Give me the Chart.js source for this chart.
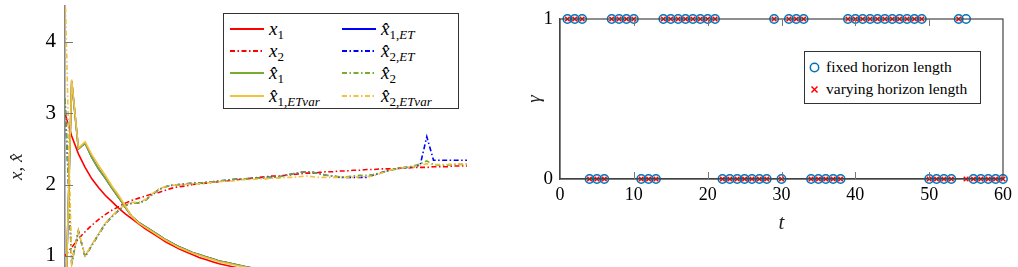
<!DOCTYPE html>
<html>
<head>
<meta charset="utf-8">
<script src="https://cdn.jsdelivr.net/npm/chart.js@4.4.1/dist/chart.umd.min.js"></script>
<style>
  body { margin: 0; width: 1018px; height: 267px; overflow: hidden; position: relative; background: #fff; }
  #leftWrap { position: absolute; left: 0; top: 0; width: 480px; height: 340px; }
  #rightWrap { position: absolute; left: 500px; top: 0; width: 518px; height: 267px; }
  .legend { position: absolute; background: #fff; border: 1px solid #333; box-sizing: border-box; }
  .item { position: absolute; height: 20px; display: flex; align-items: center; white-space: nowrap; }
  .item svg { margin-right: 5px; }
  .m { font-family: "Liberation Serif", "Times New Roman", serif; font-style: italic; font-size: 19px; color: #000; }
  .m sub { font-size: 13px; vertical-align: -4px; line-height: 0; }
  .u { font-style: normal; }
  .txt { font-family: "Liberation Serif", "Times New Roman", serif; font-size: 15.5px; color: #000; }
</style>
</head>
<body>
<div id="leftWrap"><canvas id="left"></canvas></div>
<div id="rightWrap"><canvas id="right"></canvas></div>

<div class="legend" style="left:223px;top:13px;width:236px;height:96px">
  <div class="item" style="left:6px;top:5px"><svg width="34" height="4"><line x1="0" y1="2" x2="34" y2="2" stroke="#ff0000" stroke-width="1.8"/></svg><span class="m">x<sub><span class="u">1</span></sub></span></div>
  <div class="item" style="left:118px;top:5px"><svg width="34" height="4"><line x1="0" y1="2" x2="34" y2="2" stroke="#0000ff" stroke-width="1.8"/></svg><span class="m">x&#770;<sub><span class="u">1,</span>ET</sub></span></div>
  <div class="item" style="left:6px;top:27px"><svg width="34" height="4"><line x1="0" y1="2" x2="34" y2="2" stroke="#ff0000" stroke-width="1.8" stroke-dasharray="5 2.5 1.5 2.5"/></svg><span class="m">x<sub><span class="u">2</span></sub></span></div>
  <div class="item" style="left:118px;top:27px"><svg width="34" height="4"><line x1="0" y1="2" x2="34" y2="2" stroke="#0000ff" stroke-width="1.8" stroke-dasharray="5 2.5 1.5 2.5"/></svg><span class="m">x&#770;<sub><span class="u">2,</span>ET</sub></span></div>
  <div class="item" style="left:6px;top:49px"><svg width="34" height="4"><line x1="0" y1="2" x2="34" y2="2" stroke="#77ac30" stroke-width="1.8"/></svg><span class="m">x&#770;<sub><span class="u">1</span></sub></span></div>
  <div class="item" style="left:118px;top:49px"><svg width="34" height="4"><line x1="0" y1="2" x2="34" y2="2" stroke="#77ac30" stroke-width="1.8" stroke-dasharray="5 2.5 1.5 2.5"/></svg><span class="m">x&#770;<sub><span class="u">2</span></sub></span></div>
  <div class="item" style="left:6px;top:72px"><svg width="34" height="4"><line x1="0" y1="2" x2="34" y2="2" stroke="#f5c03a" stroke-width="1.8"/></svg><span class="m">x&#770;<sub><span class="u">1,</span>ETvar</sub></span></div>
  <div class="item" style="left:118px;top:72px"><svg width="34" height="4"><line x1="0" y1="2" x2="34" y2="2" stroke="#f5c03a" stroke-width="1.8" stroke-dasharray="5 2.5 1.5 2.5"/></svg><span class="m">x&#770;<sub><span class="u">2,</span>ETvar</sub></span></div>
</div>

<div class="legend" style="left:804px;top:51px;width:177px;height:53px">
  <div class="item" style="left:3px;top:5px"><svg width="13" height="13"><circle cx="6.5" cy="6.5" r="4.2" fill="none" stroke="#0072bd" stroke-width="1.5"/></svg><span class="txt">fixed horizon length</span></div>
  <div class="item" style="left:3px;top:27px"><svg width="13" height="13"><path d="M3.5 3.5 L9.5 9.5 M9.5 3.5 L3.5 9.5" stroke="#ff0000" stroke-width="1.5"/></svg><span class="txt">varying horizon length</span></div>
</div>

<script>
// left plot: states and estimates over time
var tSteps = [0,1,2,3,4,5,6,7,8,9,10,11,12,13,14,15,16,17,18,19,20,21,22,23,24,25,26,27,28,29,30,
  31,32,33,34,35,36,37,38,39,40,41,42,43,44,45,46,47,48,49,50,51,52,53,54,55,56,57,58,59,60];
var x1 = [3.00,2.68,2.43,2.24,2.08,1.96,1.85,1.76,1.67,1.59,1.52,1.45,1.38,1.32,1.26,1.20,1.15,1.10,1.06,1.02,
  0.98,0.95,0.92,0.89,0.87,0.85,0.83,0.81,0.79,0.77,0.75,0.73,0.71,0.70,0.68,0.67,0.65,0.64,0.63,0.62,
  0.61,0.60,0.59,0.58,0.57,0.56,0.55,0.55,0.54,0.53,0.52,0.52,0.51,0.50,0.50,0.49,0.49,0.48,0.48,0.47,0.47];
var x2 = [1.00,1.12,1.24,1.34,1.43,1.51,1.58,1.64,1.69,1.74,1.78,1.81,1.84,1.87,1.89,1.92,1.95,1.97,1.98,2.00,
  2.01,2.02,2.03,2.04,2.05,2.06,2.07,2.08,2.09,2.10,2.11,2.12,2.12,2.13,2.14,2.15,2.16,2.16,2.17,2.18,
  2.18,2.19,2.19,2.20,2.20,2.21,2.21,2.22,2.22,2.22,2.23,2.23,2.24,2.24,2.24,2.25,2.25,2.25,2.26,2.26,2.26];
var x1hat = [0,3.45,2.50,2.58,2.38,2.22,2.09,1.95,1.82,1.68,1.55,1.47,1.41,1.35,1.29,1.23,1.18,1.13,1.09,1.05,
  1.02,0.99,0.96,0.93,0.91,0.89,0.87,0.85,0.83,0.81,0.79,0.77,0.75,0.73,0.72,0.70,0.69,0.67,0.66,0.65,
  0.64,0.62,0.61,0.60,0.59,0.58,0.58,0.57,0.56,0.55,0.54,0.54,0.53,0.52,0.52,0.51,0.51,0.50,0.50,0.49,0.49];
var x2hat = [3.20,0.90,1.35,0.99,1.15,1.30,1.45,1.55,1.64,1.71,1.74,1.74,1.78,1.86,1.93,1.97,1.99,2.00,2.01,2.02,
  2.02,2.03,2.04,2.05,2.06,2.07,2.08,2.08,2.09,2.09,2.10,2.10,2.11,2.13,2.15,2.17,2.18,2.17,2.15,2.13,
  2.12,2.11,2.11,2.12,2.13,2.13,2.14,2.16,2.19,2.21,2.23,2.24,2.26,2.29,2.33,2.28,2.27,2.27,2.28,2.28,2.28];
var x1hatET = [0,3.45,2.50,2.58,2.38,2.22,2.09,1.95,1.82,1.68,1.55,1.47,1.41,1.35,1.29,1.23,1.18,1.13,1.09,1.05,
  1.02,0.99,0.96,0.93,0.91,0.89,0.87,0.85,0.83,0.81,0.79,0.77,0.75,0.73,0.72,0.70,0.69,0.67,0.66,0.65,
  0.64,0.62,0.61,0.60,0.59,0.58,0.58,0.57,0.56,0.55,0.54,0.54,0.53,0.52,0.52,0.51,0.51,0.50,0.50,0.49,0.49];
var x2hatET = [3.20,0.90,1.35,0.99,1.15,1.30,1.45,1.55,1.64,1.71,1.74,1.74,1.78,1.86,1.93,1.97,1.99,2.00,2.01,2.02,
  2.02,2.03,2.04,2.05,2.06,2.07,2.08,2.08,2.09,2.09,2.10,2.10,2.11,2.13,2.15,2.17,2.18,2.17,2.15,2.13,
  2.12,2.10,2.10,2.10,2.10,2.10,2.13,2.16,2.19,2.21,2.23,2.24,2.25,2.27,2.67,2.34,2.34,2.34,2.34,2.34,2.34];
var x1hatETvar = [0,3.47,2.51,2.60,2.42,2.27,2.13,1.98,1.85,1.70,1.55,1.46,1.40,1.34,1.28,1.22,1.17,1.12,1.08,1.04,
  1.01,0.98,0.95,0.92,0.90,0.88,0.86,0.84,0.82,0.80,0.78,0.76,0.74,0.72,0.71,0.69,0.68,0.66,0.65,0.64,
  0.63,0.61,0.60,0.59,0.58,0.57,0.57,0.56,0.55,0.54,0.53,0.53,0.52,0.51,0.51,0.50,0.50,0.49,0.49,0.48,0.48];
var x2hatETvar = [4.80,0.88,1.36,1.00,1.16,1.31,1.46,1.56,1.65,1.72,1.75,1.75,1.79,1.87,1.94,1.97,1.99,2.00,2.00,2.01,
  2.01,2.02,2.03,2.04,2.05,2.05,2.06,2.07,2.07,2.08,2.08,2.09,2.09,2.10,2.10,2.11,2.12,2.11,2.10,2.10,
  2.10,2.10,2.10,2.10,2.11,2.11,2.12,2.15,2.19,2.21,2.23,2.24,2.25,2.27,2.29,2.28,2.28,2.28,2.29,2.29,2.29];
var yTicksLeft = [0, 1, 2, 3, 4];

// right plot: triggering decision gamma
var tRight = [1,2,3,4,5,6,7,8,9,10,11,12,13,14,15,16,17,18,19,20,21,22,23,24,25,26,27,28,29,30,
  31,32,33,34,35,36,37,38,39,40,41,42,43,44,45,46,47,48,49,50,51,52,53,54,55,56,57,58,59,60];
var gammaFixed = [1,1,1,0,0,0,1,1,1,1,0,0,0,1,1,1,1,1,1,1,1,0,0,0,0,0,0,0,1,0,
  1,1,1,0,0,0,0,0,1,1,1,1,1,1,1,1,1,1,1,0,0,0,0,1,1,0,0,0,0,0];
var gammaVarying = [1,1,1,0,0,0,1,1,1,1,0,0,0,1,1,1,1,1,1,1,1,0,0,0,0,0,0,0,1,0,
  1,1,1,0,0,0,0,0,1,1,1,1,1,1,1,1,1,1,1,0,0,0,0,1,0,0,0,0,0,0];
var xTicksRight = [0, 10, 20, 30, 40, 50, 60];
var yTicksRight = [0, 1];

var RED = '#ff0000', BLUE = '#0000ff', GREEN = '#77ac30', YELLOW = '#f5c03a';
var DASHDOT = [5, 2.5, 1.5, 2.5];
var SERIF = '"Liberation Serif", "Times New Roman", serif';

function pairs(xs, ys) {
  return ys.map(function (v, i) { return { x: xs[i], y: v }; });
}

function lineSet(label, values, color, dashed, order) {
  return {
    label: label,
    data: pairs(tSteps, values),
    borderColor: color,
    borderWidth: 1.6,
    borderDash: dashed ? DASHDOT : [],
    pointRadius: 0,
    tension: 0,
    fill: false,
    order: order
  };
}

// frame + inward tick marks, drawn from the scales
var tickMarks = {
  id: 'tickMarks',
  afterDraw: function (chart, args, opts) {
    var ctx = chart.ctx, a = chart.chartArea;
    ctx.save();
    ctx.strokeStyle = opts.color;
    ctx.lineWidth = 1;
    if (opts.box) {
      ctx.strokeStyle = '#444';
      ctx.lineWidth = 1.2;
      ctx.strokeRect(a.left, a.top, a.right - a.left, a.bottom - a.top);
      ctx.strokeStyle = opts.color;
      ctx.lineWidth = 1;
    }
    (opts.xTicks || []).forEach(function (v) {
      var px = Math.round(chart.scales.x.getPixelForValue(v)) + 0.5;
      ctx.beginPath();
      ctx.moveTo(px, a.bottom); ctx.lineTo(px, a.bottom - opts.len);
      ctx.moveTo(px, a.top); ctx.lineTo(px, a.top + opts.len);
      ctx.stroke();
    });
    (opts.yTicks || []).forEach(function (v) {
      var py = Math.round(chart.scales.y.getPixelForValue(v)) + 0.5;
      ctx.beginPath();
      ctx.moveTo(a.left, py); ctx.lineTo(a.left + opts.len, py);
      ctx.stroke();
    });
    ctx.restore();
  }
};

function fixY(width) {
  return function (s) { s.width = width; s.paddingTop = 0; s.paddingBottom = 0; };
}
function fixX(height) {
  return function (s) { s.height = height; s.paddingLeft = 0; s.paddingRight = 0; };
}

Chart.defaults.animation = false;

var leftChart = new Chart(document.getElementById('left').getContext('2d'), {
  type: 'line',
  data: {
    datasets: [
      lineSet('x1', x1, RED, false, 7),
      lineSet('x2', x2, RED, true, 8),
      lineSet('x1hat', x1hat, GREEN, false, 2),
      lineSet('x2hat', x2hat, GREEN, true, 4),
      lineSet('x1hatET', x1hatET, BLUE, false, 6),
      lineSet('x2hatET', x2hatET, BLUE, true, 5),
      lineSet('x1hatETvar', x1hatETvar, YELLOW, false, 1),
      lineSet('x2hatETvar', x2hatETvar, YELLOW, true, 3)
    ]
  },
  options: {
    responsive: true,
    maintainAspectRatio: false,
    devicePixelRatio: 1,
    layout: { padding: { top: 6, right: 13, bottom: 12.6, left: 0 } },
    plugins: {
      legend: { display: false },
      tooltip: { enabled: false },
      tickMarks: { color: '#777', len: 8, yTicks: [1, 2, 3, 4] }
    },
    scales: {
      x: { type: 'linear', min: 0, max: 60, display: false },
      y: {
        type: 'linear', min: 0, max: 4.5,
        afterBuildTicks: function (s) { s.ticks = yTicksLeft.map(function (v) { return { value: v }; }); },
        afterFit: fixY(65),
        grid: { display: false, drawTicks: false },
        border: { display: true, color: '#888', width: 1.6 },
        ticks: { font: { family: SERIF, size: 21 }, color: '#000', padding: 9 },
        title: { display: true, text: 'x, x\u0302', color: '#222',
          font: { family: SERIF, size: 19, style: 'italic' }, padding: { top: 6, bottom: 0 } }
      }
    }
  },
  plugins: [tickMarks]
});

var rightChart = new Chart(document.getElementById('right').getContext('2d'), {
  type: 'scatter',
  data: {
    datasets: [
      {
        label: 'varying horizon length',
        data: pairs(tRight, gammaVarying),
        pointStyle: 'crossRot',
        pointRadius: 3.3,
        borderColor: RED,
        borderWidth: 1.5,
        clip: false
      },
      {
        label: 'fixed horizon length',
        data: pairs(tRight, gammaFixed),
        pointStyle: 'circle',
        pointRadius: 4.2,
        borderColor: '#0072bd',
        backgroundColor: 'rgba(0,0,0,0)',
        borderWidth: 1.5,
        clip: false
      }
    ]
  },
  options: {
    responsive: true,
    maintainAspectRatio: false,
    devicePixelRatio: 1,
    layout: { padding: { top: 19, right: 15, bottom: 0, left: 0 } },
    plugins: {
      legend: { display: false },
      tooltip: { enabled: false },
      tickMarks: { color: '#777', len: 7, box: true, xTicks: [10, 20, 30, 40, 50] }
    },
    scales: {
      x: {
        type: 'linear', min: 0, max: 60,
        afterBuildTicks: function (s) { s.ticks = xTicksRight.map(function (v) { return { value: v }; }); },
        afterFit: fixX(88),
        grid: { display: false, drawTicks: false },
        border: { display: true, color: '#444', width: 1.2 },
        ticks: { font: { family: SERIF, size: 18 }, color: '#000', padding: 5, maxRotation: 0 },
        title: { display: true, text: 't', color: '#222',
          font: { family: SERIF, size: 21, style: 'italic' }, padding: { top: 0, bottom: 31 } }
      },
      y: {
        type: 'linear', min: 0, max: 1,
        afterBuildTicks: function (s) { s.ticks = yTicksRight.map(function (v) { return { value: v }; }); },
        afterFit: fixY(60),
        grid: { display: false, drawTicks: false },
        border: { display: true, color: '#444', width: 1.2 },
        ticks: { font: { family: SERIF, size: 19 }, color: '#000', padding: 7 },
        title: { display: true, text: '\u03b3', color: '#222',
          font: { family: SERIF, size: 19, style: 'italic' }, padding: { top: 24, bottom: 0 } }
      }
    }
  },
  plugins: [tickMarks]
});
</script>
</body>
</html>
